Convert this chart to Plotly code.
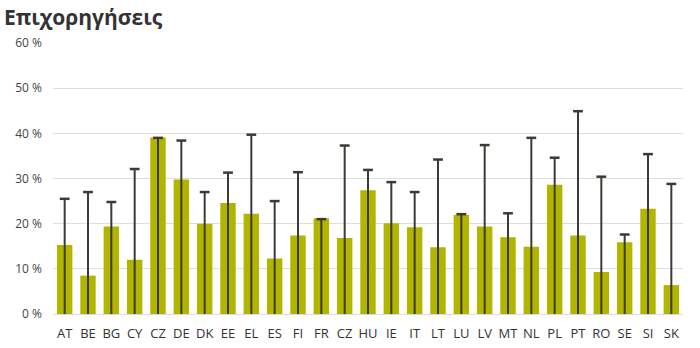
import plotly.graph_objects as go

countries = ["AT","BE","BG","CY","CZ","DE","DK","EE","EL","ES","FI","FR","CZ","HU","IE","IT","LT","LU","LV","MT","NL","PL","PT","RO","SE","SI","SK"]
values = [15.3,8.5,19.4,12.0,39.1,29.8,20.0,24.6,22.2,12.3,17.4,21.2,16.8,27.4,20.1,19.2,14.8,22.0,19.4,17.0,14.9,28.6,17.4,9.3,15.9,23.3,6.4]
maxima = [25.5,27.0,24.8,32.1,39.0,38.4,27.0,31.3,39.7,25.0,31.4,21.0,37.3,31.9,29.2,27.0,34.2,22.1,37.4,22.3,39.0,34.6,44.9,30.4,17.6,35.4,28.8]
yticks = [0,10,20,30,40,50,60]
yticklabels = ["0 %","10 %","20 %","30 %","40 %","50 %","60 %"]

xs = list(range(len(countries)))

lx, ly = [], []
for i, m in zip(xs, maxima):
    lx += [i, i, None]
    ly += [0, m, None]

fig = go.Figure()
fig.add_trace(go.Bar(x=xs, y=values, marker=dict(color="#b2b500", line=dict(width=0)), hoverinfo="skip"))
fig.add_trace(go.Scatter(x=lx, y=ly, mode="lines", line=dict(color="#3b3b33", width=2), hoverinfo="skip"))
fig.add_trace(go.Scatter(x=xs, y=maxima, mode="markers",
                         marker=dict(symbol="line-ew", size=7, line=dict(color="#3b3b33", width=2.5)),
                         hoverinfo="skip"))

fig.update_layout(
    width=700, height=348,
    margin=dict(l=53, r=17, t=43, b=34),
    paper_bgcolor="white", plot_bgcolor="white",
    showlegend=False, bargap=0.34,
    font=dict(family="Open Sans", color="#444"),
    annotations=[dict(text="<b>Επιχορηγήσεις</b>", xref="paper", yref="paper", x=-53/630, y=1+43/271,
                      xanchor="left", yanchor="top", showarrow=False,
                      font=dict(family="Open Sans", size=21, color="#333"), xshift=2, yshift=-1)],
)
fig.update_xaxes(range=[-0.5, len(countries)-0.5], tickmode="array", tickvals=xs, ticktext=countries,
                 showgrid=False, zeroline=False, showline=False, ticks="", ticklabelstandoff=10,
                 automargin=False, tickfont=dict(size=13, color="#333"))
fig.update_yaxes(range=[0, 60], tickmode="array", tickvals=yticks, ticktext=yticklabels, showgrid=True,
                 gridcolor="#dedede", gridwidth=1, zeroline=True, zerolinecolor="#dedede", zerolinewidth=1,
                 showline=False, ticks="", ticklabelstandoff=10, automargin=False,
                 tickfont=dict(size=12, color="#444"))

fig.write_html("out.html")
